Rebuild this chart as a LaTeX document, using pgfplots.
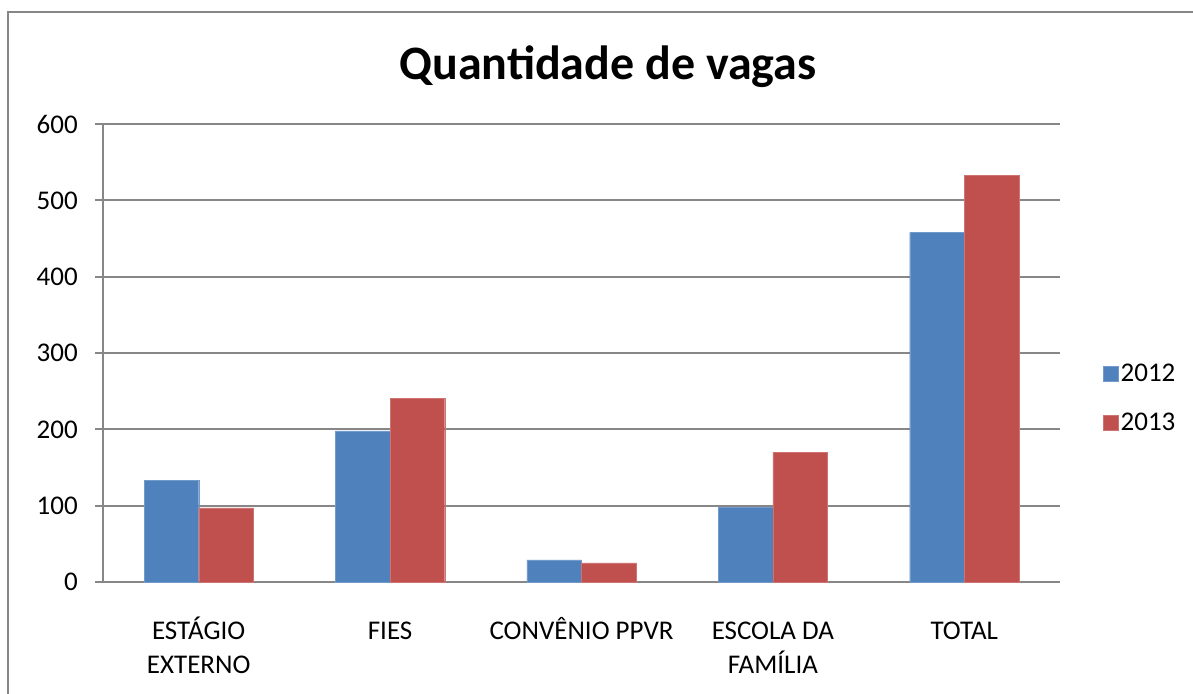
\documentclass[border=0pt]{standalone}
\usepackage{pgfplots}
\pgfplotsset{compat=1.18}
\usepackage{fontspec}
\setmainfont{Carlito}
\definecolor{bar12}{HTML}{4F81BD}
\definecolor{bar13}{HTML}{C0504D}
\definecolor{gridgray}{HTML}{878787}
\newcommand{\lstrut}{\rule{0pt}{26pt}}

\begin{document}
\begin{tikzpicture}
\useasboundingbox (0pt,0pt) rectangle (1193pt,693pt);
% chart frame (runs off right and bottom)
\draw[gridgray, line width=2pt] (8pt,-5pt) -- (8pt,681pt) -- (1200pt,681pt);
\node[anchor=base, font=\fontsize{48}{56}\selectfont\bfseries] at (608pt,613pt) {Quantidade de vagas};
\begin{axis}[
    at={(103pt,111pt)}, anchor=south west,
    scale only axis,
    width=957pt, height=458pt,
    ybar=0pt,
    bar width=54.6pt,
    xmin=-0.5, xmax=4.5,
    ymin=0, ymax=600,
    ytick={0,100,...,600},
    xtick=data,
    xticklabels={{\lstrut ESTÁGIO\\EXTERNO},{\lstrut FIES},{\lstrut CONVÊNIO PPVR},{\lstrut ESCOLA DA\\FAMÍLIA},{\lstrut TOTAL}},
    axis lines*=left,
    axis line style={gridgray, line width=2pt},
    ymajorgrids,
    major grid style={gridgray, line width=2pt},
    tick align=outside,
    major tick length=8pt,
    ytick style={gridgray, line width=2pt},
    xtick style={draw=none},
    /pgf/number format/assume math mode=true,
    ticklabel style={font=\fontsize{27}{33.5}\selectfont},
    yticklabel style={inner sep=0pt, anchor=east, xshift=-17pt},
    xticklabel style={align=center, inner sep=0pt, anchor=north, yshift=-23.5pt},
    legend style={at={(1.045,0.402)}, anchor=west, draw=none, fill=none,
        inner sep=0pt, row sep=26pt, font=\fontsize{27}{33}\selectfont,
        /tikz/every even column/.append style={column sep=7pt}},
    legend cell align=left,
    legend image code/.code={\fill[#1] (0pt,-7.5pt) rectangle (15pt,7.5pt);},
]
\addplot[fill=bar12, draw=bar12!80!white] coordinates {(0,133) (1,198) (2,29) (3,98) (4,458)};
\addplot[fill=bar13, draw=bar13!80!white] coordinates {(0,97) (1,241) (2,25) (3,170) (4,533)};
\legend{2012,2013}
\end{axis}
\end{tikzpicture}
\end{document}
